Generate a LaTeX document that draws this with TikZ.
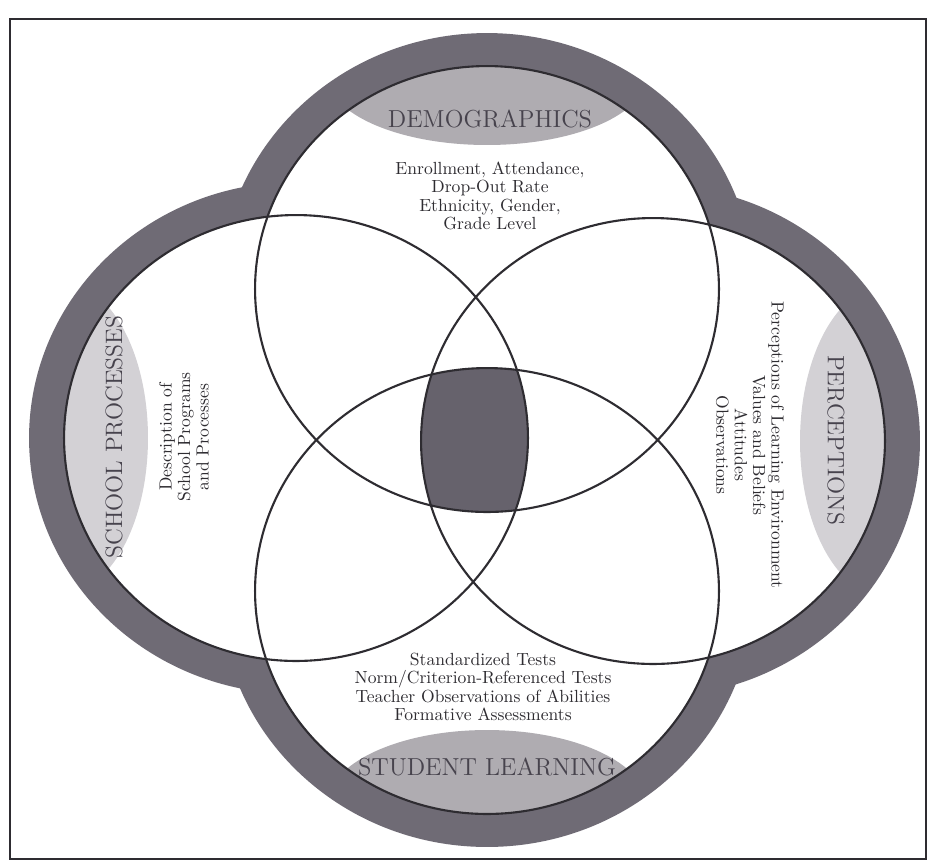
\documentclass[tikz,border=0pt]{standalone}
\usepackage{xcolor}
\newcommand{\ringrx}{4.64cm}
\newcommand{\ringry}{4.46cm}
\newcommand{\bandrx}{5.34cm}
\newcommand{\bandry}{5.12cm}
\definecolor{scanink}{HTML}{2E2C31}
\definecolor{scanband}{HTML}{6F6B75}
\definecolor{scanlens}{HTML}{AFACB1}
\definecolor{scanpale}{HTML}{D3D1D5}
\definecolor{scancore}{HTML}{66626C}
\definecolor{scantext}{HTML}{47434D}

\begin{document}
\begin{tikzpicture}[
  x=0.02cm,
  y=-0.02cm,
  boxline/.style={scanink, line width=1.6pt},
  ring/.style={scanink, line width=1.2pt},
  bandfill/.style={fill=scanband},
  lensmid/.style={fill=scanlens},
  lenspale/.style={fill=scanpale},
  heading/.style={font=\fontsize{14}{16}\selectfont, text=scantext, inner sep=0pt},
  sideheading/.style={heading, font=\fontsize{13.5}{16}\selectfont},
  info/.style={font=\fontsize{10}{10.5}\selectfont, text=scanink, align=center, inner sep=0pt}
]
  % ---- page and frame (pixel grid of the scan, y downwards)
  \fill[white] (0,0) rectangle (932,867);
  \useasboundingbox (0,0) rectangle (932,867);
  \draw[boxline] (10,19) rectangle (926,859);

  % ---- circle centres --------------------------------------------------
  \coordinate (top)    at (487,289);
  \coordinate (bottom) at (487,591);
  \coordinate (left)   at (296,438);
  \coordinate (right)  at (653,441);

  % ---- outer band: enlarged circles, then the circles in white ----------
  \foreach \c in {top, bottom, left, right}
    \fill[bandfill] (\c) ellipse [x radius=\bandrx, y radius=\bandry];
  \foreach \c in {top, bottom, left, right}
    \fill[white] (\c) ellipse [x radius=\ringrx, y radius=\ringry];

  % ---- grey lenses under the headings ------------------------------------
  \begin{scope}
    \clip (top) ellipse [x radius=\ringrx, y radius=\ringry];
    \fill[lensmid] (487,75) ellipse [x radius=3.2cm, y radius=1.4cm];
  \end{scope}
  \begin{scope}
    \clip (bottom) ellipse [x radius=\ringrx, y radius=\ringry];
    \fill[lensmid] (487,805) ellipse [x radius=3.2cm, y radius=1.5cm];
  \end{scope}
  \begin{scope}
    \clip (left) ellipse [x radius=\ringrx, y radius=\ringry];
    \fill[lenspale] (63,438) ellipse [x radius=1.7cm, y radius=3.1cm];
  \end{scope}
  \begin{scope}
    \clip (right) ellipse [x radius=\ringrx, y radius=\ringry];
    \fill[lenspale] (885,441) ellipse [x radius=1.7cm, y radius=3.1cm];
  \end{scope}

  % ---- shared centre of all four circles ----------------------------------
  \begin{scope}
    \clip (top) ellipse [x radius=\ringrx, y radius=\ringry];
    \clip (bottom) ellipse [x radius=\ringrx, y radius=\ringry];
    \clip (left) ellipse [x radius=\ringrx, y radius=\ringry];
    \fill[scancore] (right) ellipse [x radius=\ringrx, y radius=\ringry];
  \end{scope}

  % ---- circle outlines ---------------------------------------------------
  \foreach \c in {top, bottom, left, right}
    \draw[ring] (\c) ellipse [x radius=\ringrx, y radius=\ringry];

  % ---- headings ----------------------------------------------------------
  \node[heading] (demotitle) at (490,119) {DEMOGRAPHICS};
  \node[heading] (learntitle) at (487,767) {STUDENT LEARNING};
  \node[sideheading, rotate=90] (proctitle) at (114,437) {SCHOOL PROCESSES};
  \node[sideheading, rotate=-90] (perctitle) at (836,440) {PERCEPTIONS};

  % ---- what each circle holds --------------------------------------------
  \node[info] (demoinfo) at (490,196)
    {Enrollment, Attendance,\\Drop-Out Rate\\Ethnicity, Gender,\\Grade Level};
  \node[info] (learninfo) at (483,687)
    {Standardized Tests\\Norm/Criterion-Referenced Tests\\Teacher Observations of Abilities\\Formative Assessments};
  \node[info, rotate=90] (procinfo) at (184,437)
    {Description of\\School Programs\\and Processes};
  \node[info, rotate=-90] (percinfo) at (750,445)
    {Perceptions of Learning Environment\\Values and Beliefs\\Attitudes\\Observations};
\end{tikzpicture}
\end{document}
